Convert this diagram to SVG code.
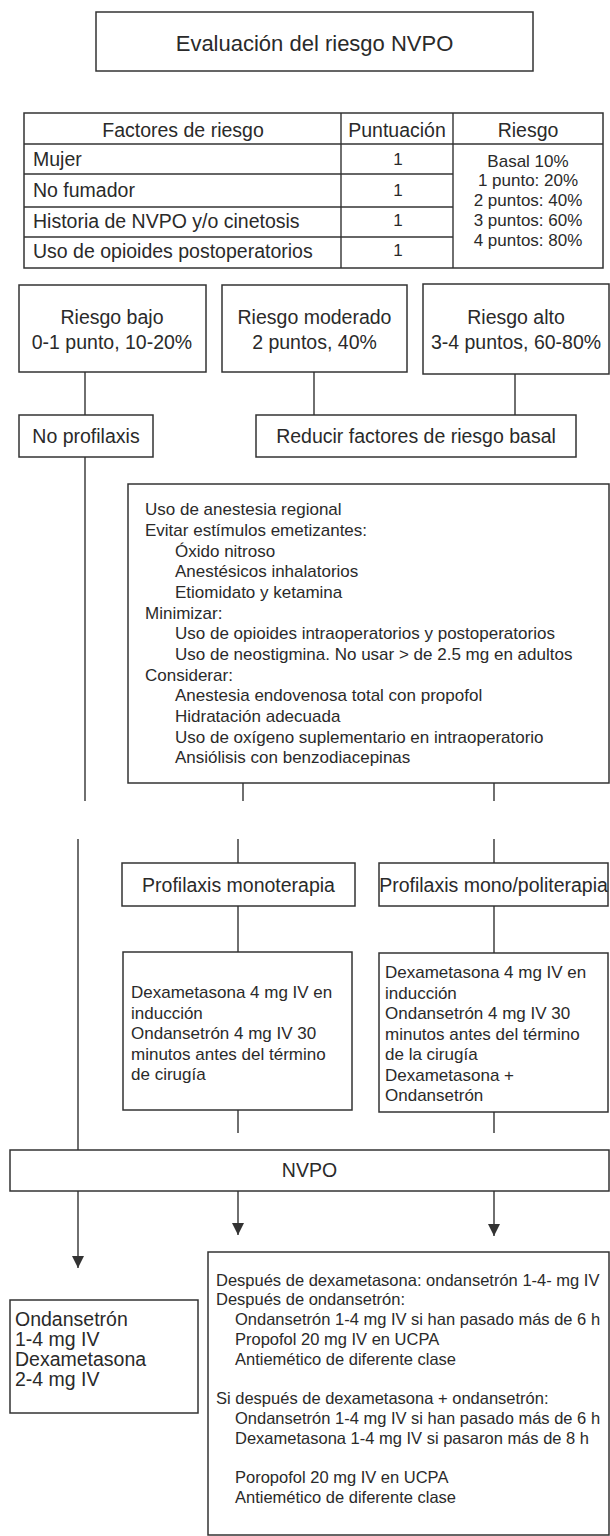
<svg xmlns="http://www.w3.org/2000/svg" width="610" height="1536" viewBox="0 0 610 1536">
<style>
  .box { fill: #fff; stroke: #333; stroke-width: 1.5; }
  .ln { stroke: #333; stroke-width: 1.4; fill: none; }
  text { font-family: "Liberation Sans", Arial, sans-serif; fill: #2a2a2a; }
  .t22 { font-size: 22px; }
  .t19 { font-size: 19.5px; }
  .t17 { font-size: 17px; }
  .t165 { font-size: 16.5px; }
  .c { text-anchor: middle; }
</style>
<defs>
  <marker id="arr" markerUnits="userSpaceOnUse" markerWidth="12" markerHeight="12" refX="12" refY="6" orient="auto">
    <path d="M0,0 L12,6 L0,12 z" fill="#333"/>
  </marker>
</defs>
<rect width="610" height="1536" fill="#fff"/>

<g id="title">
  <rect class="box" x="96" y="12" width="437" height="59"/>
  <text class="t22 c" x="314.5" y="51">Evaluación del riesgo NVPO</text>
</g>

<g id="tabla-riesgo">
  <rect class="box" x="24" y="113" width="579" height="155"/>
  <line class="ln" x1="24" y1="144" x2="603" y2="144"/>
  <line class="ln" x1="24" y1="174" x2="453" y2="174"/>
  <line class="ln" x1="24" y1="207" x2="453" y2="207"/>
  <line class="ln" x1="24" y1="237" x2="453" y2="237"/>
  <line class="ln" x1="341" y1="113" x2="341" y2="268"/>
  <line class="ln" x1="453" y1="113" x2="453" y2="268"/>
  <text class="t19 c" x="183" y="137">Factores de riesgo</text>
  <text class="t19 c" x="397" y="137">Puntuación</text>
  <text class="t19 c" x="528" y="137">Riesgo</text>
  <text class="t19" x="33" y="166">Mujer</text>
  <text class="t19" x="33" y="197">No fumador</text>
  <text class="t19" x="33" y="228">Historia de NVPO y/o cinetosis</text>
  <text class="t19" x="33" y="258">Uso de opioides postoperatorios</text>
  <text class="t17 c" x="398" y="165">1</text>
  <text class="t17 c" x="398" y="196">1</text>
  <text class="t17 c" x="398" y="226">1</text>
  <text class="t17 c" x="398" y="256">1</text>
  <text class="t17 c" x="528" y="167">Basal 10%</text>
  <text class="t17 c" x="528" y="186">1 punto: 20%</text>
  <text class="t17 c" x="528" y="206">2 puntos: 40%</text>
  <text class="t17 c" x="528" y="226">3 puntos: 60%</text>
  <text class="t17 c" x="528" y="246">4 puntos: 80%</text>
</g>

<g id="riesgo-bajo">
  <rect class="box" x="19" y="285" width="187" height="87"/>
  <text class="t19 c" x="112" y="324">Riesgo bajo</text>
  <text class="t19 c" x="112" y="349">0-1 punto, 10-20%</text>
</g>
<g id="riesgo-moderado">
  <rect class="box" x="222" y="285" width="185" height="87"/>
  <text class="t19 c" x="314.5" y="324">Riesgo moderado</text>
  <text class="t19 c" x="314.5" y="349">2 puntos, 40%</text>
</g>
<g id="riesgo-alto">
  <rect class="box" x="423" y="284" width="186" height="90"/>
  <text class="t19 c" x="516" y="324">Riesgo alto</text>
  <text class="t19 c" x="516" y="349">3-4 puntos, 60-80%</text>
</g>

<g id="no-profilaxis">
  <rect class="box" x="19" y="415" width="134" height="42"/>
  <text class="t19 c" x="86" y="443">No profilaxis</text>
</g>
<g id="reducir">
  <rect class="box" x="256" y="415" width="320" height="42"/>
  <text class="t19 c" x="416" y="443">Reducir factores de riesgo basal</text>
</g>

<g id="medidas">
  <rect class="box" x="128" y="484" width="481" height="299"/>
  <text class="t17" x="145" y="515">Uso de anestesia regional</text>
  <text class="t17" x="145" y="536">Evitar estímulos emetizantes:</text>
  <text class="t17" x="175" y="556.5">Óxido nitroso</text>
  <text class="t17" x="175" y="577">Anestésicos inhalatorios</text>
  <text class="t17" x="175" y="598">Etiomidato y ketamina</text>
  <text class="t17" x="145" y="618.5">Minimizar:</text>
  <text class="t17" x="175" y="639">Uso de opioides intraoperatorios y postoperatorios</text>
  <text class="t17" x="175" y="660">Uso de neostigmina. No usar &gt; de 2.5 mg en adultos</text>
  <text class="t17" x="145" y="680.5">Considerar:</text>
  <text class="t17" x="175" y="701">Anestesia endovenosa total con propofol</text>
  <text class="t17" x="175" y="722">Hidratación adecuada</text>
  <text class="t17" x="175" y="742.5">Uso de oxígeno suplementario en intraoperatorio</text>
  <text class="t17" x="175" y="763">Ansiólisis con benzodiacepinas</text>
</g>

<g id="profilaxis-monoterapia">
  <rect class="box" x="122" y="863" width="233" height="43"/>
  <text class="t19 c" x="238.5" y="892">Profilaxis monoterapia</text>
</g>
<g id="profilaxis-politerapia">
  <rect class="box" x="379" y="863" width="229" height="43"/>
  <text class="t19 c" x="493.5" y="892">Profilaxis mono/politerapia</text>
</g>

<g id="dosis-monoterapia">
  <rect class="box" x="123" y="952" width="229" height="158"/>
  <text class="t17" x="131" y="998">Dexametasona 4 mg IV en</text>
  <text class="t17" x="131" y="1018.5">inducción</text>
  <text class="t17" x="131" y="1039">Ondansetrón 4 mg IV 30</text>
  <text class="t17" x="131" y="1059.5">minutos antes del término</text>
  <text class="t17" x="131" y="1080">de cirugía</text>
</g>
<g id="dosis-politerapia">
  <rect class="box" x="379" y="953" width="229" height="159"/>
  <text class="t17" x="385" y="978">Dexametasona 4 mg IV en</text>
  <text class="t17" x="385" y="998.5">inducción</text>
  <text class="t17" x="385" y="1019">Ondansetrón 4 mg IV 30</text>
  <text class="t17" x="385" y="1039.5">minutos antes del término</text>
  <text class="t17" x="385" y="1060">de la cirugía</text>
  <text class="t17" x="385" y="1080.5">Dexametasona +</text>
  <text class="t17" x="385" y="1101">Ondansetrón</text>
</g>

<g id="nvpo">
  <rect class="box" x="10" y="1150" width="599" height="41"/>
  <text class="t19 c" x="309.5" y="1177">NVPO</text>
</g>

<g id="rescate-sin-profilaxis">
  <rect class="box" x="10" y="1300" width="188" height="113"/>
  <text class="t19" x="15" y="1326">Ondansetrón</text>
  <text class="t19" x="15" y="1346">1-4 mg IV</text>
  <text class="t19" x="15" y="1366">Dexametasona</text>
  <text class="t19" x="15" y="1386">2-4 mg IV</text>
</g>

<g id="rescate-con-profilaxis">
  <rect class="box" x="208" y="1252" width="401" height="283"/>
  <text class="t165" x="216" y="1286">Después de dexametasona: ondansetrón 1-4- mg IV</text>
  <text class="t165" x="216" y="1305">Después de ondansetrón:</text>
  <text class="t165" x="235" y="1324.5">Ondansetrón 1-4 mg IV si han pasado más de 6 h</text>
  <text class="t165" x="235" y="1344.5">Propofol 20 mg IV en UCPA</text>
  <text class="t165" x="235" y="1364.5">Antiemético de diferente clase</text>
  <text class="t165" x="216" y="1403.5">Si después de dexametasona + ondansetrón:</text>
  <text class="t165" x="235" y="1423.5">Ondansetrón 1-4 mg IV si han pasado más de 6 h</text>
  <text class="t165" x="235" y="1443.5">Dexametasona 1-4 mg IV si pasaron más de 8 h</text>
  <text class="t165" x="235" y="1482.5">Poropofol 20 mg IV en UCPA</text>
  <text class="t165" x="235" y="1502.5">Antiemético de diferente clase</text>
</g>

<g id="connectors">
  <line class="ln" x1="85" y1="372" x2="85" y2="415"/>
  <line class="ln" x1="314" y1="372" x2="314" y2="415"/>
  <line class="ln" x1="515" y1="374" x2="515" y2="415"/>
  <line class="ln" x1="85" y1="457" x2="85" y2="801"/>
  <line class="ln" x1="243" y1="783" x2="243" y2="801"/>
  <line class="ln" x1="494" y1="783" x2="494" y2="801"/>
  <line class="ln" x1="78" y1="839" x2="78" y2="1150"/>
  <line class="ln" x1="238" y1="839" x2="238" y2="863"/>
  <line class="ln" x1="494" y1="839" x2="494" y2="863"/>
  <line class="ln" x1="238" y1="906" x2="238" y2="952"/>
  <line class="ln" x1="494" y1="906" x2="494" y2="953"/>
  <line class="ln" x1="238" y1="1110" x2="238" y2="1133"/>
  <line class="ln" x1="494" y1="1112" x2="494" y2="1133"/>
  <line class="ln" x1="78" y1="1191" x2="78" y2="1268" marker-end="url(#arr)"/>
  <line class="ln" x1="238" y1="1191" x2="238" y2="1235" marker-end="url(#arr)"/>
  <line class="ln" x1="494" y1="1191" x2="494" y2="1236" marker-end="url(#arr)"/>
</g>
</svg>
